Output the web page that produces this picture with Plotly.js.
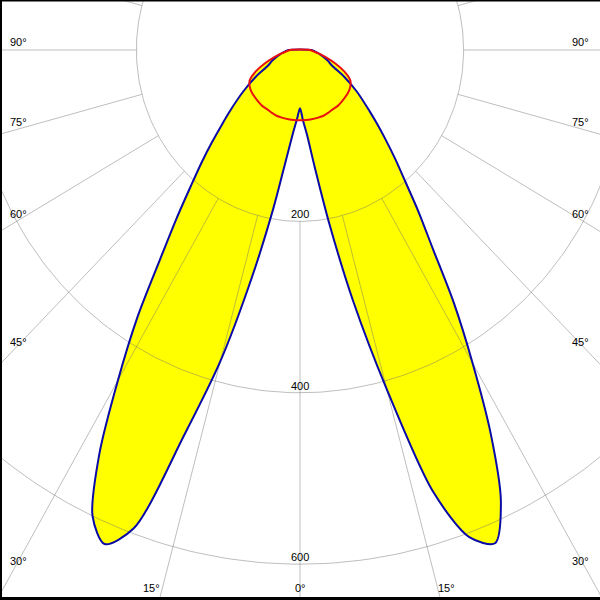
<!DOCTYPE html>
<html><head><meta charset="utf-8">
<script src="https://cdn.plot.ly/plotly-3.0.1.min.js"></script>
<style>html,body{margin:0;padding:0;background:#fff;overflow:hidden}</style>
</head><body><div id="chart" style="width:600px;height:600px"></div>
<script>
// Photometric data (cd/klm), gamma angles in degrees (0 = straight down)
const gammaAngles = [0,2.5,5,7.5,10,12.5,15,17.5,20,22.5,25,27.5,30,32.5,35,37.5,40,42.5,45,47.5,50,55,60,65,70,75,80,85,90];
const planeC0   = [68,82,100,138,205,300,410,540,605,623,581,505,422,350,283,238,200,172,148,128,111,85,62,43,36,29,23,18,14];
const planeC180 = [68,80,97,128,188,272,376,472,594,624,600,531,445,370,298,248,208,178,152,130,113,85,62,43,36,29,23,18,14];
const redAngles = [0,5,10,15,20,25,30,35,40,45,50,55,60,65,70,75,80,85,90];
const planeC90  = [82,82,82,82,82,81,80,80,79,78,77,75,71,60,46,33,23,16,12];
const planeC270 = [82,82,82,82,82,81,80,80,79,78,77,75,71,60,46,33,23,16,12];
const radialTicks = [200,400,600];
const radialTickLabels = ['200','400','600'];
const angleTickLabels = ['0°','15°','30°','45°','60°','75°','90°'];

const d2r = Math.PI/180;
function curve(angles, leftVals, rightVals){
  const x=[], y=[];
  for(let i=angles.length-1;i>=0;i--){ x.push(-leftVals[i]*Math.sin(angles[i]*d2r)); y.push(-leftVals[i]*Math.cos(angles[i]*d2r)); }
  for(let i=1;i<angles.length;i++){ x.push(rightVals[i]*Math.sin(angles[i]*d2r)); y.push(-rightVals[i]*Math.cos(angles[i]*d2r)); }
  x.push(x[0]); y.push(y[0]);
  return {x,y};
}
const blue = curve(gammaAngles, planeC180, planeC0);
const red = curve(redAngles, planeC270, planeC90);

const traces = [];
const fillStyle = {mode:'lines', fill:'toself', fillcolor:'#ffff00', line:{width:0, color:'#ffff00', shape:'spline', smoothing:0.8}, hoverinfo:'skip'};
traces.push(Object.assign({x:blue.x, y:blue.y}, fillStyle));
traces.push(Object.assign({x:red.x, y:red.y}, fillStyle));

// grid
const gridLine = {color:'rgba(110,110,110,0.45)', width:1};
radialTicks.forEach(R=>{
  const x=[], y=[];
  for(let t=0;t<=360;t+=1){ x.push(R*Math.sin(t*d2r)); y.push(R*Math.cos(t*d2r)); }
  traces.push({x, y, mode:'lines', line:gridLine, hoverinfo:'skip'});
});
{
  const x=[], y=[];
  for(let a=0;a<360;a+=15){
    x.push(200*Math.sin(a*d2r), 1200*Math.sin(a*d2r), null);
    y.push(-200*Math.cos(a*d2r), -1200*Math.cos(a*d2r), null);
  }
  traces.push({x, y, mode:'lines', line:gridLine, hoverinfo:'skip', connectgaps:false});
}
traces.push({x:blue.x, y:blue.y, mode:'lines', line:{color:'#0a0aa8', width:2, shape:'spline', smoothing:0.8}, hoverinfo:'skip'});
traces.push({x:red.x, y:red.y, mode:'lines', line:{color:'#e81010', width:2, shape:'spline', smoothing:0.8}, hoverinfo:'skip'});

const font = {family:'Liberation Sans, Arial, sans-serif', size:11, color:'#000'};
const annotations = [];
radialTicks.forEach((R,i)=>{
  annotations.push({x:0, y:-R, xref:'x', yref:'y', text:radialTickLabels[i], showarrow:false, xanchor:'center', yanchor:'bottom', font, yshift:-1});
});
// angle labels placed at the frame edges (pixel positions)
const leftLabelY = [null,null,561,342,214,122,42];
annotations.push({x:300/600, y:1-588/600, xref:'paper', yref:'paper', text:angleTickLabels[0], showarrow:false, xanchor:'center', yanchor:'middle', font});
annotations.push({x:151/600, y:1-588/600, xref:'paper', yref:'paper', text:angleTickLabels[1], showarrow:false, xanchor:'center', yanchor:'middle', font});
annotations.push({x:446/600, y:1-588/600, xref:'paper', yref:'paper', text:angleTickLabels[1], showarrow:false, xanchor:'center', yanchor:'middle', font});
for(let i=2;i<7;i++){
  annotations.push({x:8/600, y:1-leftLabelY[i]/600, xref:'paper', yref:'paper', text:angleTickLabels[i], showarrow:false, xanchor:'left', yanchor:'middle', font});
  annotations.push({x:591/600, y:1-leftLabelY[i]/600, xref:'paper', yref:'paper', text:angleTickLabels[i], showarrow:false, xanchor:'right', yanchor:'middle', font});
}

const layout = {
  width:600, height:600, margin:{l:0,r:0,t:0,b:0},
  paper_bgcolor:'#fff', plot_bgcolor:'#fff', showlegend:false,
  xaxis:{range:[-366.7,366.7], visible:false, fixedrange:true},
  yaxis:{range:[-641.8,58.3], visible:false, fixedrange:true},
  annotations,
  shapes:[
    {type:'line', xref:'paper', yref:'paper', x0:0, x1:0, y0:0, y1:1, line:{color:'#000', width:4}},
    {type:'line', xref:'paper', yref:'paper', x0:0, x1:1, y0:0, y1:0, line:{color:'#000', width:6}},
    {type:'line', xref:'paper', yref:'paper', x0:0, x1:1, y0:1, y1:1, line:{color:'#000', width:3}}
  ],
  hovermode:false
};
Plotly.newPlot('chart', traces, layout, {staticPlot:true, displayModeBar:false});
</script></body></html>
